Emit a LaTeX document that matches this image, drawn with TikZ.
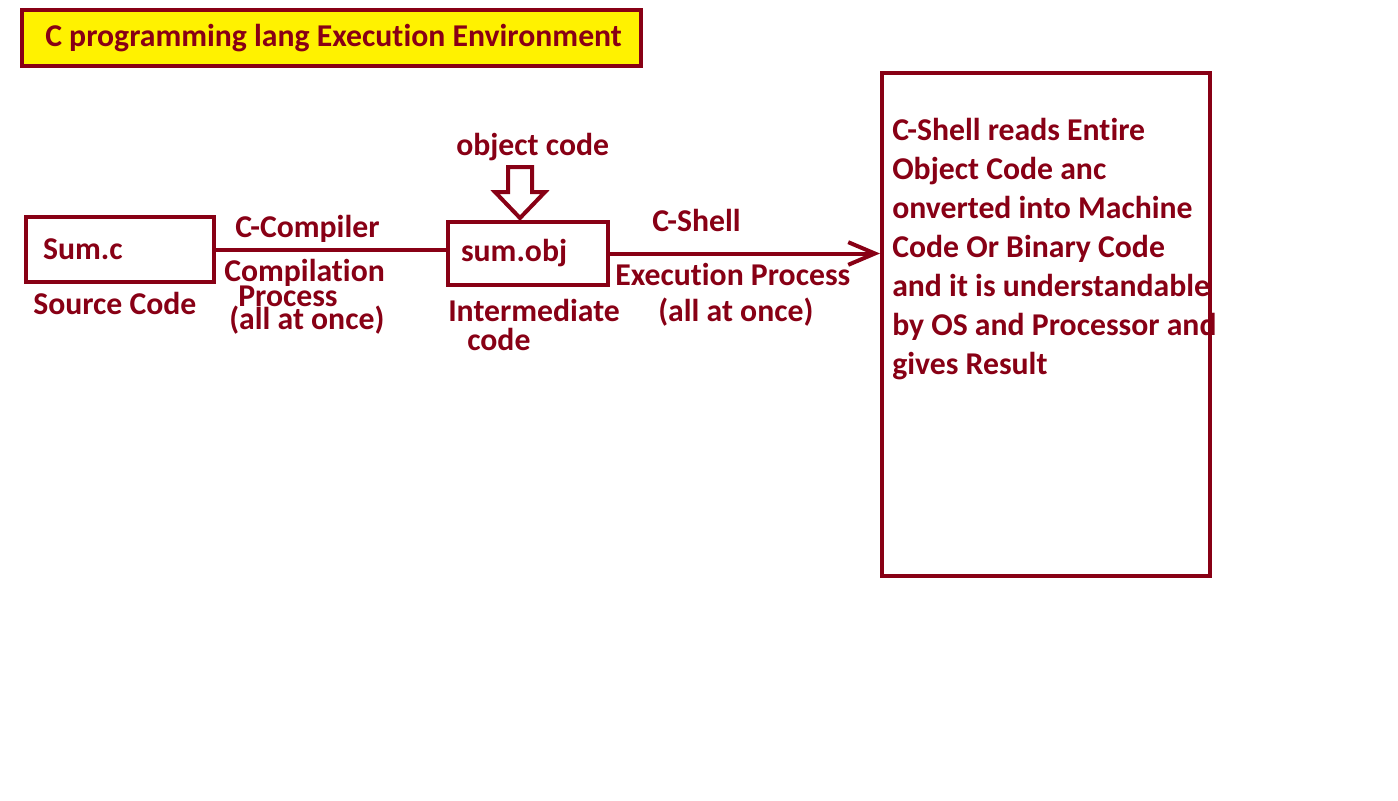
\documentclass[tikz,border=0pt]{standalone}
\usepackage{fontspec}
\setmainfont{Carlito}[Ligatures={NoCommon,NoContextual,NoRequired},Contextuals=NoAlternate]
\usetikzlibrary{arrows.meta}
\definecolor{darkred}{RGB}{136,0,21}
\definecolor{paintyellow}{RGB}{255,242,0}

\begin{document}
\begin{tikzpicture}[x=0.75pt,y=-0.75pt,>={Straight Barb[length=20pt,width=17pt]},
  font=\fontsize{23.8}{29.25}\selectfont\bfseries,
  every node/.style={text=darkred,inner sep=0pt},
  box/.style={draw=darkred,line width=3pt,align=left},
  lbl/.style={anchor=base west}]
 \useasboundingbox (0,0) rectangle (1398,800);
 % ---- title
 \node[box,fill=paintyellow,minimum width=464.25pt,minimum height=42pt] (title) at (331.5,38) {};
 \node[lbl] (titletext) at (45,46) {C programming lang Execution Environment};
 % ---- source and compiler
 \node[box,minimum width=141pt,minimum height=48.75pt,text width=115.5pt] (src) at (120,249.5) {Sum.c};
 \node[lbl] (srclbl) at (33,314) {Source Code};
 \node[box,minimum width=120pt,minimum height=47.25pt,text width=100.5pt] (obj) at (528,253.5) {sum.obj};
 \draw[darkred,line width=3pt] (src.east) -- (src.east -| obj.west);
 \node[lbl] (cc) at (235,237.5) {C-Compiler};
 \node[lbl] (comp1) at (224,281) {Compilation};
 \node[lbl] (comp2) at (238,306) {Process};
 \node[lbl] (comp3) at (229,329) {(all at once)};
 % ---- object code
 \node[lbl] (objlbl) at (456,155) {object code};
 \draw[darkred,line width=3pt,line join=miter]
   (508,167) -- (532,167) -- (532,192) -- (545,192) -- (520,218) -- (495,192) -- (508,192) -- cycle;
 \node[lbl] (inter1) at (448,321.7) {Intermediate};
 \node[lbl] (inter2) at (467,350) {code};
 % ---- execution
 \node[box,minimum width=246pt,minimum height=377.25pt] (result) at (1046,324.5) {};
 \draw[->,darkred,line width=3pt] (obj.east) -- (obj.east -| result.west);
 \node[lbl] (shell) at (652,231.7) {C-Shell};
 \node[lbl] (exec1) at (615,285) {Execution Process};
 \node[lbl] (exec2) at (658,321.7) {(all at once)};
 \node[lbl,align=left] (restext) at (892,374) {C-Shell reads Entire\\Object Code anc\\onverted into Machine\\Code Or Binary Code\\and it is understandable\\by OS and Processor and\\gives Result};
\end{tikzpicture}
\end{document}
